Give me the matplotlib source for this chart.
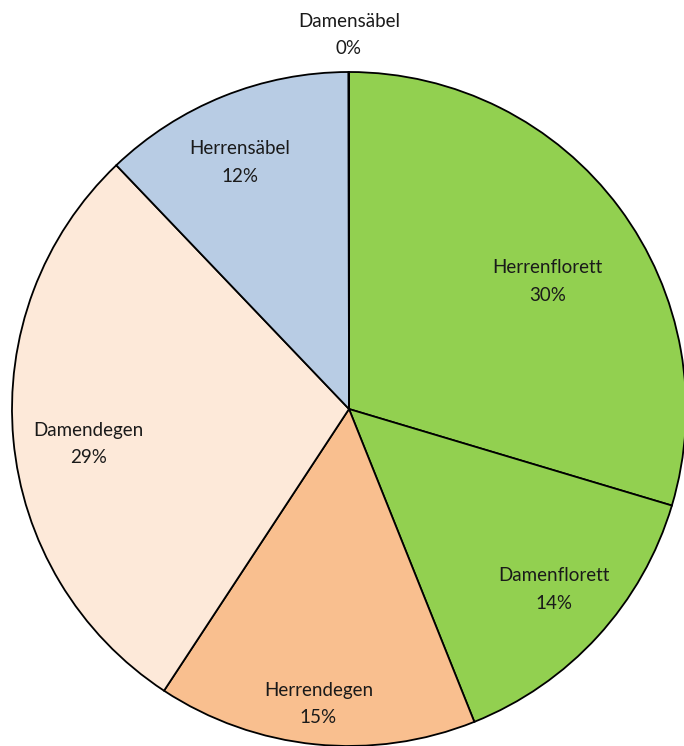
import numpy as np
import matplotlib.pyplot as plt

# Fencing disciplines, clockwise from 12 o'clock
categories = ['Herrenflorett', 'Damenflorett', 'Herrendegen', 'Damendegen', 'Herrensäbel', 'Damensäbel']
shares = [29.6, 14.3, 15.3, 28.6, 12.1, 0.02]
pct_labels = ['30%', '14%', '15%', '29%', '12%', '0%']

colors = ['#92D050', '#92D050', '#F9BF8F', '#FDE9D9', '#B8CCE4', '#95B3D7']
# label placement (fraction of radius, angle nudge in degrees)
label_dist = [0.70, 0.81, 0.88, 0.78, 0.80, 1.11]
label_nudge = [-4.0, 1.0, -0.2, 2.5, 2.0, 0.0]

plt.rcParams['font.family'] = ['Lato', 'DejaVu Sans']

fig = plt.figure(figsize=(6.84, 7.46), dpi=100)
ax = fig.add_axes([0, 0, 1, 1])

cx, cy, R = 349, 337, 337
wedges, _ = ax.pie(shares, colors=colors, startangle=90, counterclock=False,
                   center=(cx, cy), radius=R, frame=True,
                   wedgeprops=dict(edgecolor='black', linewidth=1.3))
ax.set_xlim(0, 684)
ax.set_ylim(0, 746)
ax.set_aspect('equal')
ax.axis('off')

for w, name, pct, d, nud in zip(wedges, categories, pct_labels, label_dist, label_nudge):
    theta = np.deg2rad((w.theta1 + w.theta2) / 2 + nud)
    x = cx + d * R * np.cos(theta)
    y = cy + d * R * np.sin(theta)
    ax.text(x, y, f'{name}\n{pct}', ha='center', va='center', fontsize=13.5,
            color='#1a1a1a', linespacing=1.75)

fig.savefig('out.png', dpi=100)
